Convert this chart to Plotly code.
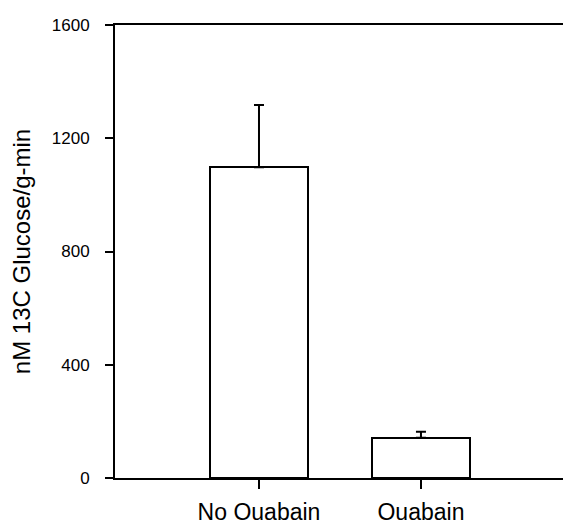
import plotly.graph_objects as go

categories = ["No Ouabain", "Ouabain"]
values = [1098, 142]
errors_up = [219, 21]
errors_down = [0, 0]
y_ticks = [0, 400, 800, 1200, 1600]
y_title = "nM 13C Glucose/g-min"

FONT = "Liberation Sans, Arial, sans-serif"

fig = go.Figure()
fig.add_trace(go.Bar(
    x=categories,
    y=values,
    width=0.6,
    marker=dict(color="white", line=dict(color="black", width=2)),
    error_y=dict(type="data", symmetric=False, array=errors_up, arrayminus=errors_down,
                 color="black", thickness=2, width=5),
    showlegend=False,
))

fig.update_layout(
    width=563, height=526,
    margin=dict(l=115, r=0, t=25, b=48),
    paper_bgcolor="white", plot_bgcolor="white",
    font=dict(family=FONT, color="black"),
    bargap=0,
)
fig.update_xaxes(
    type="category",
    range=[-0.889, 1.877],
    showline=True, linecolor="black", linewidth=2, mirror=True,
    ticks="outside", ticklen=9, tickwidth=2, tickcolor="black",
    tickfont=dict(size=23, family=FONT),
    ticklabelstandoff=3,
    showgrid=False, zeroline=False,
)
fig.update_yaxes(
    range=[0, 1600],
    tickvals=y_ticks,
    showline=True, linecolor="black", linewidth=2,
    ticks="outside", ticklen=8, tickwidth=2, tickcolor="black",
    tickfont=dict(size=17, family=FONT),
    ticklabelstandoff=12,
    showgrid=False, zeroline=False,
    title=dict(text=y_title, font=dict(size=24, family=FONT), standoff=14),
)

fig.write_html("out.html")
